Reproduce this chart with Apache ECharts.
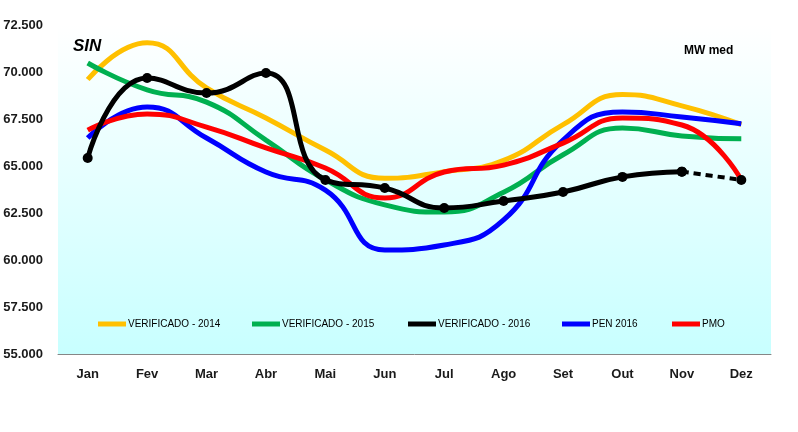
<!DOCTYPE html>
<html>
<head>
<meta charset="utf-8">
<script src="https://cdn.jsdelivr.net/npm/echarts@6/dist/echarts.min.js"></script>
<style>html,body{margin:0;padding:0;background:#fff}#c{width:798px;height:432px}</style>
</head>
<body>
<div id="c"></div>
<script>
const months = ['Jan','Fev','Mar','Abr','Mai','Jun','Jul','Ago','Set','Out','Nov','Dez'];
const verificado2014 = [69600, 71550, 69150, 67550, 65850, 64350, 64700, 65300, 67200, 68800, 68200, 67200];
const verificado2015 = [70480, 69050, 68400, 66380, 64260, 62930, 62550, 63600, 65600, 67020, 66600, 66450];
const verificado2016 = [65430, 69680, 68880, 69950, 64260, 63830, 62770, 63140, 63620, 64420, 64700, null];
const verificado2016Proj = [null, null, null, null, null, null, null, null, null, null, 64700, 64260];
const pen2016 = [66490, 68140, 66490, 64680, 63720, 60530, 60800, 62130, 66380, 67870, 67610, 67250];
const pmo = [66910, 67770, 67070, 65960, 64890, 63300, 64680, 65050, 66220, 67550, 67180, 64260];
const yTicks = [55000, 57500, 60000, 62500, 65000, 67500, 70000, 72500];

const chart = echarts.init(document.getElementById('c'), null, {renderer: 'canvas'});
const font = 'Liberation Sans, Arial, sans-serif';
function fmt(v){ const s = String(Math.round(v)); return s.slice(0, s.length-3) + '.' + s.slice(-3); }
function legendAt(name, left){
  return {
    data: [name], left: left, top: 319, padding: 0, icon: 'rect', itemWidth: 28, itemHeight: 5, itemGap: 0,
    textStyle: {fontFamily: font, fontSize: 10, color: '#000', padding: [0,0,0,-3]}, selectedMode: false
  };
}
const lineW = 5;
chart.setOption({
  animation: false,
  title: [
    {text: 'SIN', left: 68, top: 33, textStyle: {fontFamily: font, fontSize: 17, fontWeight: 'bold', fontStyle: 'italic', color: '#000'}},
    {text: 'MW med', left: 679, top: 40, textStyle: {fontFamily: font, fontSize: 12, fontWeight: 'bold', color: '#000'}}
  ],
  legend: [
    legendAt('VERIFICADO - 2014', 98),
    legendAt('VERIFICADO - 2015', 252),
    legendAt('VERIFICADO - 2016', 408),
    legendAt('PEN 2016', 562),
    legendAt('PMO', 672)
  ],
  grid: {
    left: 58, right: 27, top: 25, bottom: 78, show: true, borderWidth: 0,
    backgroundColor: new echarts.graphic.LinearGradient(0, 0, 0, 1, [
      {offset: 0, color: '#ffffff'}, {offset: 1, color: '#c8ffff'}
    ])
  },
  xAxis: {
    type: 'category', data: months, boundaryGap: true,
    axisLine: {lineStyle: {color: '#868686', width: 1}},
    axisTick: {show: false},
    axisLabel: {margin: 14, fontFamily: font, fontSize: 13, fontWeight: 'bold', color: '#1a1a1a'}
  },
  yAxis: {
    type: 'value', min: 55000, max: 72500, interval: 2500,
    axisLine: {show: false}, axisTick: {show: false}, splitLine: {show: false},
    axisLabel: {margin: 15, fontFamily: font, fontSize: 13, fontWeight: 'bold', color: '#1a1a1a',
      formatter: v => yTicks.includes(v) ? fmt(v) : ''}
  },
  series: [
    {name: 'VERIFICADO - 2014', type: 'line', data: verificado2014, smooth: 0.5, showSymbol: false,
      lineStyle: {color: '#FFC000', width: lineW}, itemStyle: {color: '#FFC000'}},
    {name: 'VERIFICADO - 2015', type: 'line', data: verificado2015, smooth: 0.5, showSymbol: false,
      lineStyle: {color: '#00B050', width: lineW}, itemStyle: {color: '#00B050'}},
    {name: 'PEN 2016', type: 'line', data: pen2016, smooth: 0.5, showSymbol: false,
      lineStyle: {color: '#0000FF', width: lineW}, itemStyle: {color: '#0000FF'}},
    {name: 'PMO', type: 'line', data: pmo, smooth: 0.5, showSymbol: false,
      lineStyle: {color: '#FF0000', width: lineW}, itemStyle: {color: '#FF0000'}},
    {name: 'VERIFICADO - 2016', type: 'line', data: verificado2016, smooth: 0.5, symbol: 'circle', symbolSize: 10,
      lineStyle: {color: '#000', width: lineW}, itemStyle: {color: '#000'}},
    {name: 'VERIFICADO - 2016 proj', type: 'line', data: verificado2016Proj, smooth: 0.5, symbol: 'circle', symbolSize: 10,
      lineStyle: {color: '#000', width: 4, type: [7, 5]}, itemStyle: {color: '#000'}}
  ]
});
</script>
</body>
</html>
